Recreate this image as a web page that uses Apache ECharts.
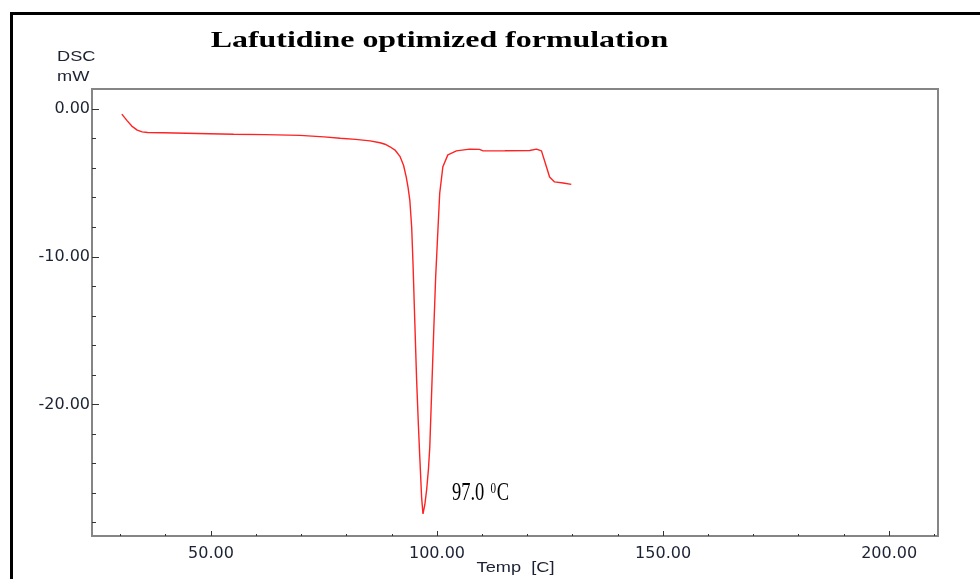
<!DOCTYPE html>
<html>
<head>
<meta charset="utf-8">
<script src="https://cdn.jsdelivr.net/npm/echarts@6/dist/echarts.min.js"></script>
<style>html,body{margin:0;padding:0;background:#fff;}#c{width:980px;height:579px;}</style>
</head>
<body>
<div id="c"></div>
<script>
const temps = [30.3, 31.5, 32.5, 33.7, 34.8, 36, 39.5, 47, 55, 62, 69.7, 75, 78.6, 82, 85.2, 87.4, 88.5, 89.6, 90.8, 91.8, 92.6, 93.2, 93.6, 94.0, 94.4, 94.7, 95.1, 95.5, 95.9, 96.2, 96.6, 96.9, 97.3, 97.7, 98.1, 98.4, 98.9, 99.3, 99.7, 100.2, 100.6, 101.3, 102.4, 104.3, 107.2, 109.4, 110.2, 115, 120.5, 122, 123.1, 124.2, 124.9, 126, 127.9, 129.7];
const dsc = [-0.34, -0.8, -1.15, -1.42, -1.54, -1.58, -1.6, -1.65, -1.7, -1.73, -1.78, -1.88, -1.97, -2.05, -2.15, -2.28, -2.38, -2.55, -2.8, -3.2, -3.8, -4.6, -5.3, -6.2, -8.0, -10.5, -14.5, -18.4, -21.5, -23.6, -26.3, -27.4, -26.8, -25.8, -24.4, -22.9, -18.4, -14.8, -11.4, -8.2, -5.7, -3.9, -3.1, -2.83, -2.71, -2.73, -2.83, -2.82, -2.8, -2.71, -2.83, -3.9, -4.6, -4.93, -5.0, -5.1];
const yLabels = [0, -10, -20];
const yTicks = [0, -2, -4, -6, -8, -10, -12, -14, -16, -18, -20, -22, -24, -26, -28];
const xLabels = [50, 100, 150, 200];
const xTicks = [30, 40, 50, 60, 70, 80, 90, 100, 110, 120, 130, 140, 150, 160, 170, 180, 190, 200, 210];
const peak = [96.9, -27.4];
const titleText = 'Lafutidine optimized formulation';
const peakText = '97.0 ';
const xName = 'Temp  [C]';

const chart = echarts.init(document.getElementById('c'));
const labelFont = {fontFamily: 'DejaVu Sans', fontSize: 16, color: '#1b2233'};
function txt(text, x, y, font, sx, align, extra) {
  return Object.assign({
    type: 'text', x: x, y: y, scaleX: sx, z: 100,
    style: {text: text, font: font, fill: '#000', textAlign: align, align: align,
            textVerticalAlign: 'middle', verticalAlign: 'middle'}
  }, extra || {});
}
chart.setOption({
  animation: false,
  grid: {left: 92, top: 89, right: 42, bottom: 43, show: true, borderColor: '#858585', borderWidth: 2, containLabel: false},
  xAxis: [{
    type: 'value', min: 23.7, max: 210.8,
    axisLine: {show: true, onZero: false, lineStyle: {color: '#858585', width: 2}},
    axisTick: {show: true, inside: true, length: 2, customValues: xTicks, lineStyle: {color: '#333'}},
    axisLabel: {customValues: xLabels, margin: 10, formatter: v => v.toFixed(2), ...labelFont},
    splitLine: {show: false}
  }, {
    type: 'value', min: 23.7, max: 210.8, position: 'bottom',
    axisLine: {show: false, onZero: false},
    axisTick: {show: true, inside: true, length: 5, customValues: xLabels, lineStyle: {color: '#333'}},
    axisLabel: {show: false}, splitLine: {show: false}
  }],
  yAxis: [{
    type: 'value', min: -28.9, max: 1.36,
    axisLine: {show: true, onZero: false, lineStyle: {color: '#858585', width: 2}},
    axisTick: {show: true, inside: true, length: 4, customValues: yTicks, lineStyle: {color: '#333'}},
    axisLabel: {customValues: yLabels, margin: 2, formatter: v => v.toFixed(2), ...labelFont},
    splitLine: {show: false}
  }, {
    type: 'value', min: -28.9, max: 1.36, position: 'left', offset: 0,
    axisLine: {show: false, onZero: false},
    axisTick: {show: true, inside: true, length: 7, customValues: yLabels, lineStyle: {color: '#333'}},
    axisLabel: {show: false}, splitLine: {show: false}
  }],
  series: [{
    type: 'line', xAxisIndex: 0, yAxisIndex: 0,
    data: temps.map((t, i) => [t, dsc[i]]),
    showSymbol: false, symbol: 'none', smooth: false,
    lineStyle: {color: '#ff2222', width: 1.4}
  }]
});

const p = chart.convertToPixel({xAxisIndex: 0, yAxisIndex: 0}, peak);
chart.setOption({
  graphic: [
    {type: 'rect', shape: {x: 11.5, y: 13.5, width: 1000, height: 600}, style: {fill: 'none', stroke: '#000', lineWidth: 3}},
    txt(titleText, 439.5, 41, 'bold 24px "Liberation Serif"', 1.33, 'center'),
    txt('DSC', 57, 57, '14px "Liberation Sans"', 1.3, 'left', {style: {text: 'DSC', font: '14px "Liberation Sans"', fill: '#1b2233', align: 'left', textAlign: 'left', verticalAlign: 'middle', textVerticalAlign: 'middle'}}),
    txt('mW', 57, 77, '14px "Liberation Sans"', 1.3, 'left', {style: {text: 'mW', font: '14px "Liberation Sans"', fill: '#1b2233', align: 'left', textAlign: 'left', verticalAlign: 'middle', textVerticalAlign: 'middle'}}),
    txt(xName, 515.5, 568, '14px "Liberation Sans"', 1.3, 'center', {style: {text: xName, font: '14px "Liberation Sans"', fill: '#1b2233', align: 'center', textAlign: 'center', verticalAlign: 'middle', textVerticalAlign: 'middle'}}),
    txt(peakText, p[0] + 29, p[1] - 20, '25px "Liberation Serif"', 0.74, 'left', {
      style: {
        text: '97.0 {s|0}C', font: '25px "Liberation Serif"', fill: '#000', align: 'left', textAlign: 'left', verticalAlign: 'middle', textVerticalAlign: 'middle',
        rich: {s: {font: '15px "Liberation Serif"', fill: '#000', verticalAlign: 'top', padding: [0, 1, 10, 2]}}
      }
    })
  ]
});
</script>
</body>
</html>
